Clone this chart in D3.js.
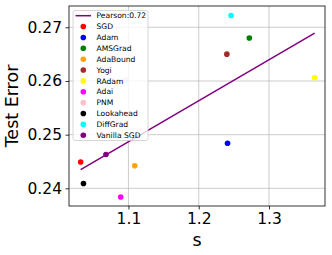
<!DOCTYPE html>
<html>
<head>
<meta charset="utf-8">
<script src="https://cdn.jsdelivr.net/npm/d3@7"></script>
<style>
  body { margin: 0; background: #fff; }
  text { font-family: "DejaVu Sans", sans-serif; fill: #000; }
</style>
</head>
<body>
<div class="chart"></div>
<script>
(function() {
  // data
  var names = ["SGD", "Adam", "AMSGrad", "AdaBound", "Yogi", "RAdam", "Adai", "PNM", "Lookahead", "DiffGrad", "Vanilla SGD"];
  var colors = ["red", "blue", "green", "orange", "brown", "yellow", "magenta", "pink", "black", "cyan", "purple"];
  var sValues = [1.032, 1.241, 1.272, 1.109, 1.240, 1.365, 1.089, 1.096, 1.036, 1.246, 1.068];
  var errValues = [0.2449, 0.2484, 0.2680, 0.2442, 0.2650, 0.2606, 0.2384, 0.2602, 0.2409, 0.2722, 0.2463];
  var fitS = [1.032, 1.365];
  var fitErr = [0.2435, 0.2689];
  var fitLabel = "Pearson:0.72";
  var xTicks = [1.1, 1.2, 1.3];
  var yTicks = [0.24, 0.25, 0.26, 0.27];

  var width = 332, height = 255,
    plot = { left: 69, right: 325, top: 6, bottom: 206 };

  var svg = d3.select(".chart").append("svg")
    .attr("width", width)
    .attr("height", height);

  var x = d3.scaleLinear().domain([1.0154, 1.3797]).range([plot.left, plot.right]);
  var y = d3.scaleLinear().domain([0.23671, 0.27397]).range([plot.bottom, plot.top]);

  // grid
  svg.append("g").selectAll("line").data(xTicks).enter().append("line")
    .attr("x1", function(d) { return x(d); }).attr("x2", function(d) { return x(d); })
    .attr("y1", plot.top).attr("y2", plot.bottom)
    .attr("stroke", "#b0b0b0").attr("stroke-width", 0.8).attr("stroke-opacity", 0.8);
  svg.append("g").selectAll("line").data(yTicks).enter().append("line")
    .attr("y1", function(d) { return y(d); }).attr("y2", function(d) { return y(d); })
    .attr("x1", plot.left).attr("x2", plot.right)
    .attr("stroke", "#b0b0b0").attr("stroke-width", 0.8).attr("stroke-opacity", 0.8);

  // axes
  var xAxis = svg.append("g")
    .attr("transform", "translate(0," + plot.bottom + ")")
    .call(d3.axisBottom(x).tickValues(xTicks).tickSize(3.5).tickPadding(3.5).tickFormat(d3.format(".1f")));
  var yAxis = svg.append("g")
    .attr("transform", "translate(" + plot.left + ",0)")
    .call(d3.axisLeft(y).tickValues(yTicks).tickSize(3.5).tickPadding(3.5).tickFormat(d3.format(".2f")));
  [xAxis, yAxis].forEach(function(a) {
    a.select(".domain").remove();
    a.selectAll("line").attr("stroke", "#000").attr("stroke-width", 0.8);
    a.selectAll("text").attr("font-family", "DejaVu Sans").attr("font-size", 15.5).attr("fill", "#000");
  });

  // frame
  svg.append("rect")
    .attr("x", plot.left).attr("y", plot.top)
    .attr("width", plot.right - plot.left).attr("height", plot.bottom - plot.top)
    .attr("fill", "none").attr("stroke", "#000").attr("stroke-width", 0.8);

  // fit line
  var fit = fitS.map(function(s, i) { return { s: s, e: fitErr[i] }; });
  svg.append("path")
    .attr("d", d3.line().x(function(d) { return x(d.s); }).y(function(d) { return y(d.e); })(fit))
    .attr("stroke", "purple").attr("stroke-width", 1.5).attr("fill", "none");

  // points
  var pts = names.map(function(n, i) { return { name: n, color: colors[i], s: sValues[i], e: errValues[i] }; });
  svg.append("g").selectAll("circle").data(pts).enter().append("circle")
    .attr("cx", function(d) { return x(d.s); })
    .attr("cy", function(d) { return y(d.e); })
    .attr("r", 2.8)
    .attr("fill", function(d) { return d.color; });

  // axis labels
  svg.append("text")
    .attr("transform", "translate(18," + ((plot.top + plot.bottom) / 2) + ") rotate(-90)")
    .attr("text-anchor", "middle")
    .attr("font-size", 17.5)
    .text("Test Error");
  svg.append("text")
    .attr("x", (plot.left + plot.right) / 2)
    .attr("y", 246)
    .attr("text-anchor", "middle")
    .attr("font-size", 17.5)
    .text("s");

  // legend
  var lg = svg.append("g").attr("transform", "translate(73,10.5)");
  lg.append("rect")
    .attr("width", 75).attr("height", 130).attr("rx", 2)
    .attr("fill", "#fff").attr("fill-opacity", 0.8)
    .attr("stroke", "#cccccc").attr("stroke-width", 0.8);
  var rowH = 10.87, firstY = 5.2;
  lg.append("line")
    .attr("x1", 2.5).attr("x2", 18).attr("y1", firstY).attr("y2", firstY)
    .attr("stroke", "purple").attr("stroke-width", 1.5);
  lg.append("text")
    .attr("x", 23.5).attr("y", firstY).attr("dy", "0.35em")
    .attr("font-size", 7.6).text(fitLabel);
  var items = lg.selectAll("g.item").data(pts).enter().append("g")
    .attr("class", "item")
    .attr("transform", function(d, i) { return "translate(0," + (firstY + (i + 1) * rowH) + ")"; });
  items.append("circle").attr("cx", 10.3).attr("r", 2.8).attr("fill", function(d) { return d.color; });
  items.append("text").attr("x", 23.5).attr("dy", "0.35em").attr("font-size", 7.6)
    .text(function(d) { return d.name; });
})();
</script>
</body>
</html>
